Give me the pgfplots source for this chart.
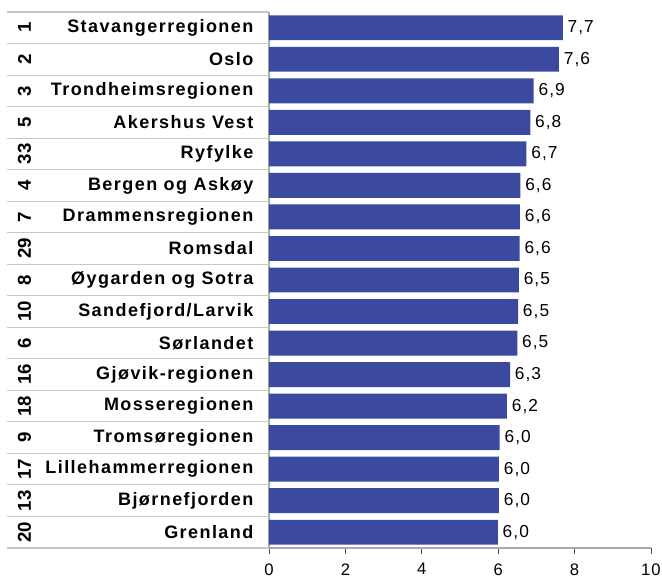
\documentclass[border=0pt]{standalone}
\usepackage{fontspec}
\setmainfont{Liberation Sans}
\newfontfamily\namefont{Liberation Sans}[LetterSpace=8]
\newfontfamily\numfont{Liberation Sans}[LetterSpace=6]
\usepackage{pgfplots}
\usepackage{pgfplotstable}
\pgfplotsset{compat=1.18}
\definecolor{barblue}{RGB}{59,74,158}
\definecolor{rowgrey}{RGB}{200,200,200}
\definecolor{axgrey}{RGB}{170,170,170}

\pgfplotstableread[col sep=semicolon]{
y;value;name
0;5.99;Grenland
1;6.02;Bjørnefjorden
2;6.02;Lillehammerregionen
3;6.04;Tromsøregionen
4;6.23;Mosseregionen
5;6.31;Gjøvik-regionen
6;6.50;Sørlandet
7;6.52;Sandefjord/Larvik
8;6.54;Øygarden og Sotra
9;6.56;Romsdal
10;6.57;Drammensregionen
11;6.58;Bergen og Askøy
12;6.74;Ryfylke
13;6.84;Akershus Vest
14;6.93;Trondheimsregionen
15;7.59;Oslo
16;7.69;Stavangerregionen
}\datatable

\begin{document}
\begin{tikzpicture}
\begin{axis}[
  name=ax,
  scale only axis,
  width=286.5pt, height=402pt,
  xmin=0, xmax=10,
  ymin=-0.5, ymax=16.5,
  xtick={0,2,4,6,8,10},
  ytick={0,...,16},
  yticklabels from table={\datatable}{name},
  axis x line*=bottom,
  axis y line*=left,
  axis line style={draw=axgrey, line width=0.8pt, -},
  x axis line style={-},
  y axis line style={-},
  tick align=outside,
  xtick style={draw=black!70, line width=0.6pt},
  major tick length=4.5pt,
  ytick style={draw=none},
  yticklabel style={font=\namefont\bfseries\fontsize{13.5}{15}\selectfont, anchor=east, inner sep=0pt, xshift=-7pt},
  xticklabel style={font=\numfont\fontsize{12.5}{14}\selectfont, yshift=-3.5pt},
  /pgf/number format/assume math mode=true,
  clip=false,
  xbar,
  bar width=0.79,
  bar shift=0pt,
  point meta=x,
  nodes near coords={\pgfmathprintnumber[fixed,fixed zerofill,precision=1,use comma]{\pgfplotspointmeta}},
  nodes near coords style={font=\numfont\fontsize{13}{15}\selectfont, anchor=west, inner sep=3.5pt},
]
\addplot[fill=barblue, draw=none] table[x=value, y=y] {\datatable};
\pgfplotsinvokeforeach{0,...,17}{
  \draw[rowgrey, line width=0.8pt] (axis cs:-6.86,#1-0.5) -- (axis cs:0,#1-0.5);
}
\foreach \r [count=\i from 0] in {20,13,17,9,18,16,6,10,8,29,7,4,33,5,3,2,1}{
  \edef\temp{\noexpand\node[rotate=90, font=\noexpand\bfseries\noexpand\fontsize{14}{16}\noexpand\selectfont, inner sep=0pt] at (axis cs:-6.40,\i) {\r};}
  \temp
}
\end{axis}
\pgfresetboundingbox
\path ([shift={(-201.75pt,-23.25pt)}]ax.south west) rectangle ([shift={(294.75pt,411pt)}]ax.south west);
\end{tikzpicture}
\end{document}
